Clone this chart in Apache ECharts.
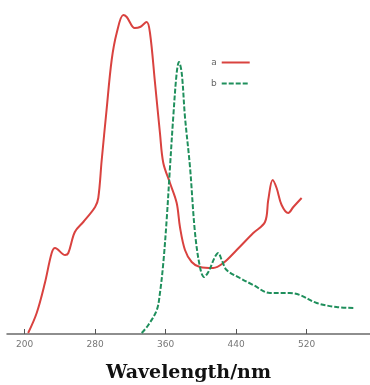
<!DOCTYPE html>
<html>
<head>
<meta charset="utf-8">
<script src="https://cdn.jsdelivr.net/npm/echarts@6/dist/echarts.min.js"></script>
<style>
  html, body { margin: 0; padding: 0; background: #fff; }
  #container { width: 370px; height: 385px; }
</style>
</head>
<body>
<div id="container"></div>
<script>
// wavelength (nm) / intensity (arb. units)
var waveA = [204, 213.7, 223, 230.7, 234.5, 246, 249.6, 257, 266.6, 280, 283.6, 287.5, 293, 298.8, 304.5, 312, 315.9, 325, 331, 338.5, 342.3, 348, 353.6, 357.4, 365, 372.6, 376.3, 382, 389.6, 399, 414, 425.5, 440.7, 459.5, 472.8, 476.5, 481.5, 486, 491.7, 499.2, 505, 514.4];
var valA = [1, 21, 51, 81, 86, 79, 81, 102, 112, 127, 136, 174, 224, 274, 301, 319, 317, 306, 307, 312, 301, 251, 201, 171, 151, 131, 107, 84, 72, 67, 66, 71, 84, 101, 112, 134, 154, 146, 129, 121, 127, 136];

var waveB = [332.9, 340.4, 350, 353.6, 357.4, 361.2, 365, 368.7, 372.6, 375.2, 378.3, 382, 387.7, 393.4, 399, 403.6, 408.5, 416, 419.8, 423.7, 429.3, 444.4, 459.5, 478.5, 501, 512.5, 531.5, 554, 574.9];
var valB = [1, 9, 24, 41, 71, 114, 167, 217, 261, 272, 261, 217, 167, 101, 67, 57, 62, 77, 81, 74, 64, 56, 49, 41, 41, 39, 31, 27, 26];

var tickValues = [200, 280, 360, 440, 520];

function pairs(xs, ys) {
  return xs.map(function(x, i) { return [x, ys[i]]; });
}

var myChart = echarts.init(document.getElementById('container'));

myChart.setOption({
  animation: false,
  grid: { left: 7, right: 0, top: 4, bottom: 51, outerBoundsMode: 'none' },
  legend: {
    orient: 'vertical',
    left: 206,
    top: 53,
    itemGap: 12,
    itemWidth: 28,
    itemHeight: 10,
    align: 'right',
    itemStyle: { opacity: 0 },
    textStyle: { fontSize: 9, color: '#666', fontFamily: 'DejaVu Sans' },
    data: ['a', 'b']
  },
  xAxis: {
    type: 'value',
    min: 180,
    max: 592,
    name: 'Wavelength/nm',
    nameLocation: 'middle',
    nameGap: 30,
    nameTextStyle: { fontFamily: 'DejaVu Serif', fontWeight: 'bold', fontSize: 19, color: '#111' },
    splitLine: { show: false },
    axisLine: { lineStyle: { color: '#6a6a6a', width: 1.5 } },
    axisTick: { inside: true, length: 5, customValues: tickValues, lineStyle: { color: '#555' } },
    axisLabel: { customValues: tickValues, fontSize: 9, color: '#777', margin: 6, fontFamily: 'DejaVu Sans' }
  },
  yAxis: {
    type: 'value',
    min: 0,
    max: 330,
    show: false
  },
  series: [
    {
      name: 'a',
      type: 'line',
      smooth: 0.35,
      symbol: 'none',
      lineStyle: { color: '#d9423f', width: 2 },
      itemStyle: { color: '#d9423f' },
      data: pairs(waveA, valA)
    },
    {
      name: 'b',
      type: 'line',
      smooth: 0.35,
      symbol: 'none',
      lineStyle: { color: '#1f8f5c', width: 2, type: [5, 2] },
      itemStyle: { color: '#1f8f5c' },
      data: pairs(waveB, valB)
    }
  ]
});
</script>
</body>
</html>
